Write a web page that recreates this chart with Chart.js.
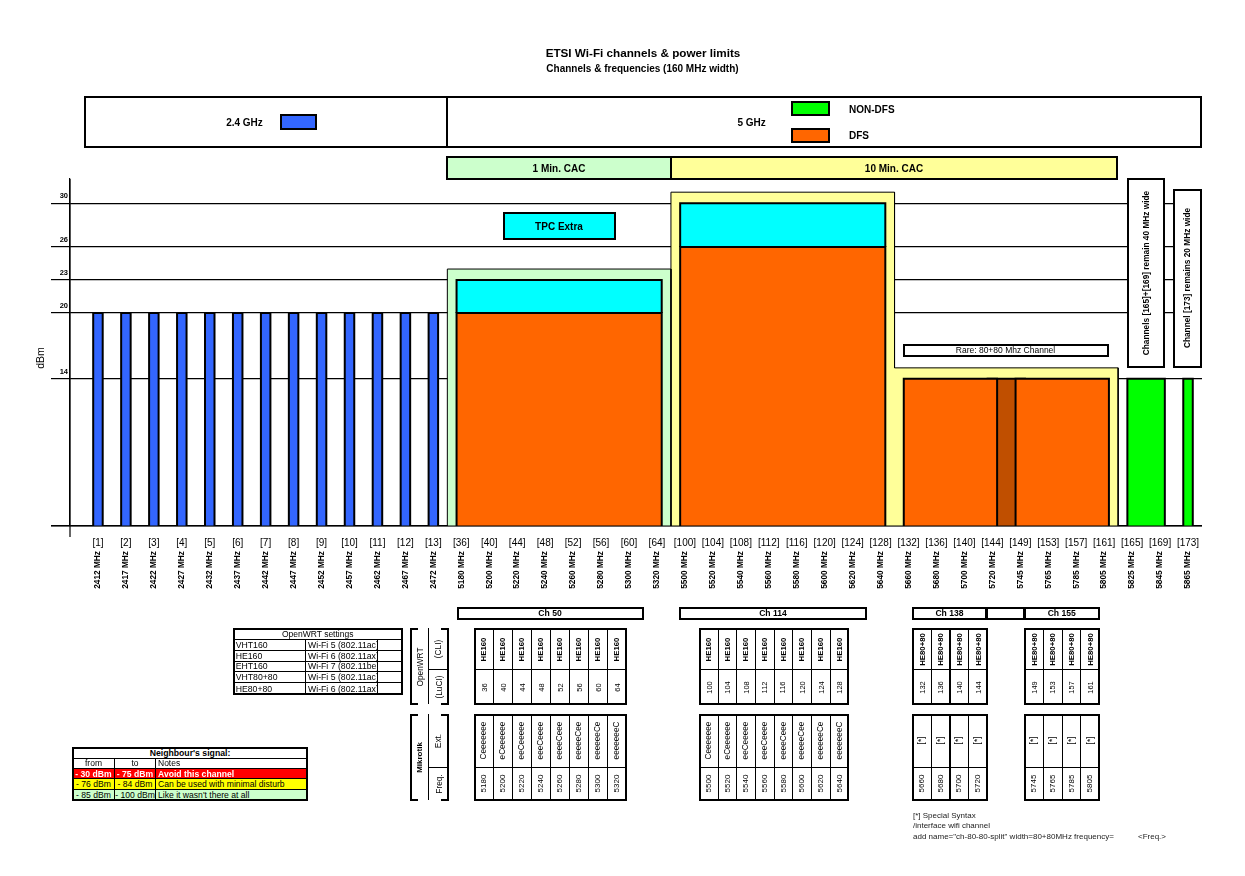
<!DOCTYPE html>
<html>
<head>
<meta charset="utf-8">
<title>ETSI Wi-Fi channels &amp; power limits</title>
<script src="https://cdn.jsdelivr.net/npm/chart.js@4.4.1/dist/chart.umd.min.js"></script>
<style>
html,body{margin:0;padding:0;background:#fff;}
#wrap{position:relative;width:1245px;height:876px;overflow:hidden;font-family:"Liberation Sans",Arial,Helvetica,sans-serif;color:#000;}
#chart{position:absolute;left:0;top:0;}
#overlay{position:absolute;left:0;top:0;width:1245px;height:876px;}
.box{position:absolute;box-sizing:border-box;}
.txt{position:absolute;white-space:nowrap;line-height:1;}
.cell{position:absolute;box-sizing:border-box;display:flex;align-items:center;white-space:nowrap;line-height:1;}
.rot{display:inline-block;flex-shrink:0;transform:rotate(-90deg);white-space:nowrap;}
</style>
</head>
<body>
<div id="wrap">
<canvas id="chart" width="1245" height="876"></canvas>
<div id="overlay"></div>
</div>
<script>
// ---------------- DATA ----------------
const channelLabels = ['[1]','[2]','[3]','[4]','[5]','[6]','[7]','[8]','[9]','[10]','[11]','[12]','[13]',
  '[36]','[40]','[44]','[48]','[52]','[56]','[60]','[64]',
  '[100]','[104]','[108]','[112]','[116]','[120]','[124]','[128]',
  '[132]','[136]','[140]','[144]','[149]','[153]','[157]','[161]',
  '[165]','[169]','[173]'];
const frequencies = [2412,2417,2422,2427,2432,2437,2442,2447,2452,2457,2462,2467,2472,
  5180,5200,5220,5240,5260,5280,5300,5320,
  5500,5520,5540,5560,5580,5600,5620,5640,
  5660,5680,5700,5720,5745,5765,5785,5805,
  5825,5845,5865];
const gridLevels = [14,20,23,26,30];

const band24Channels = ['[1]','[2]','[3]','[4]','[5]','[6]','[7]','[8]','[9]','[10]','[11]','[12]','[13]'];
const band24Power = [20,20,20,20,20,20,20,20,20,20,20,20,20];

const blockFirst = ['[36]','[100]','[132]','[149]','[165]','[173]'];
const blockLast  = ['[64]','[128]','[144]','[161]','[169]','[173]'];
const blockPower = [20,26,14,14,14,14];
const blockTpc   = [23,30,null,null,null,null];
const blockType  = ['DFS','DFS','DFS','DFS','NON-DFS','NON-DFS'];

const rareFirst = '[144]';
const rareLast  = '[149]';
const rarePower = 14;

const cacFirst = ['[36]','[100]','[132]'];
const cacLast  = ['[64]','[128]','[161]'];
const cacTop   = [24,31,15];
const cacGroup = ['1 Min. CAC','10 Min. CAC','10 Min. CAC'];

const openwrtModes = ['VHT160','HE160','EHT160','VHT80+80','HE80+80'];
const openwrtStandards = ['Wi-Fi 5 (802.11ac)','Wi-Fi 6 (802.11ax)','Wi-Fi 7 (802.11be)','Wi-Fi 5 (802.11ac)','Wi-Fi 6 (802.11ax)'];

const groupNames = ['Ch 50','Ch 114','Ch 138','Ch 155'];
const groupModes = [
  ['HE160','HE160','HE160','HE160','HE160','HE160','HE160','HE160'],
  ['HE160','HE160','HE160','HE160','HE160','HE160','HE160','HE160'],
  ['HE80+80','HE80+80','HE80+80','HE80+80'],
  ['HE80+80','HE80+80','HE80+80','HE80+80']];
const groupChannels = [
  [36,40,44,48,52,56,60,64],
  [100,104,108,112,116,120,124,128],
  [132,136,140,144],
  [149,153,157,161]];
const groupExt = [
  ['Ceeeeeee','eCeeeeee','eeCeeeee','eeeCeeee','eeeeCeee','eeeeeCee','eeeeeeCe','eeeeeeeC'],
  ['Ceeeeeee','eCeeeeee','eeCeeeee','eeeCeeee','eeeeCeee','eeeeeCee','eeeeeeCe','eeeeeeeC'],
  ['[*]','[*]','[*]','[*]'],
  ['[*]','[*]','[*]','[*]']];
const groupFreqs = [
  [5180,5200,5220,5240,5260,5280,5300,5320],
  [5500,5520,5540,5560,5580,5600,5620,5640],
  [5660,5680,5700,5720],
  [5745,5765,5785,5805]];

const signalFrom  = ['- 30 dBm','- 76 dBm','- 85 dBm'];
const signalTo    = ['- 75 dBm','- 84 dBm','- 100 dBm'];
const signalNotes = ['Avoid this channel','Can be used with minimal disturb',"Like it wasn't there at all"];

// ---------------- STYLE ----------------
const FONT = '"Liberation Sans", Arial, sans-serif';
const COLORS = {
  band24: '#3366FF', 'DFS': '#FF6600', 'NON-DFS': '#00FF00', tpc: '#00FFFF', rare: '#C04F00',
  '1 Min. CAC': '#CCFFCC', '10 Min. CAC': '#FFFF99'
};
const HW = 0.17; // half bar width in category units
const signalBg = ['#FF0000','#FFFF00','#CCFFCC'];
const signalFg = ['#FFFFFF','#000000','#000000'];
const signalBold = [true,false,false];

// ---------------- CHART ----------------
const idx = l => channelLabels.indexOf(l);
const rectPts = (i0, i1, lo, hi) => [{x:i0-HW,y:lo},{x:i0-HW,y:hi},{x:i1+HW,y:hi},{x:i1+HW,y:lo}];
const datasets = [];
function addShape(points, lo, color, width, order) {
  datasets.push({
    data: points, xAxisID: 'x', yAxisID: 'y',
    fill: {value: lo}, backgroundColor: color, borderColor: '#000', borderWidth: width,
    pointRadius: 0, pointHoverRadius: 0, pointHitRadius: 0, tension: 0, order: order,
    borderJoinStyle: 'miter', borderCapStyle: 'butt'
  });
}
// CAC backgrounds (stepped outline per group)
[...new Set(cacGroup)].forEach(g => {
  const pts = [];
  cacGroup.forEach((gg, k) => {
    if (gg !== g) return;
    const a = idx(cacFirst[k]) - 0.5, b = idx(cacLast[k]) + 0.5;
    if (!pts.length) pts.push({x:a, y:0});
    pts.push({x:a, y:cacTop[k]}, {x:b, y:cacTop[k]});
  });
  pts.push({x: pts[pts.length-1].x, y: 0});
  addShape(pts, 0, COLORS[g], 1, 10);
});
// TPC extra
blockFirst.forEach((f, k) => {
  if (blockTpc[k] == null) return;
  addShape(rectPts(idx(f), idx(blockLast[k]), blockPower[k], blockTpc[k]), blockPower[k], COLORS.tpc, 2, 8);
});
// rare 80+80 overlap
addShape(rectPts(idx(rareFirst), idx(rareLast), 0, rarePower), 0, COLORS.rare, 2, 6);
// 5 GHz blocks
blockFirst.forEach((f, k) => {
  addShape(rectPts(idx(f), idx(blockLast[k]), 0, blockPower[k]), 0, COLORS[blockType[k]], 2, 2);
});
// 2.4 GHz bars
band24Channels.forEach((c, k) => {
  addShape(rectPts(idx(c), idx(c), 0, band24Power[k]), 0, COLORS.band24, 2, 2);
});

const axisPlugin = {
  id: 'axisExt',
  afterDatasetsDraw(chart) {
    const {ctx, chartArea: a, scales: {y}} = chart;
    const yb = y.getPixelForValue(y.min);
    ctx.save();
    ctx.strokeStyle = '#000';
    ctx.lineWidth = 1.2;
    ctx.beginPath();
    ctx.moveTo(a.left - y.options.grid.tickLength, yb);
    ctx.lineTo(a.right, yb);
    ctx.moveTo(a.left, a.top);
    ctx.lineTo(a.left, a.bottom + 11);
    ctx.stroke();
    ctx.restore();
  }
};

const catTicks = s => { s.ticks = channelLabels.map((_, i) => ({value: i})); };

new Chart(document.getElementById('chart'), {
  type: 'line',
  data: {datasets},
  options: {
    responsive: false, animation: false, events: [],
    layout: {padding: {left: 50, right: 43, top: 179, bottom: 280}},
    plugins: {legend: {display: false}, tooltip: {enabled: false}, title: {display: false}},
    scales: {
      x: {
        type: 'linear', axis: 'x', position: 'bottom', weight: 0, min: -1, max: 39.5,
        afterBuildTicks: catTicks,
        afterFit: s => { s.height = 24; },
        grid: {display: false, drawTicks: false, tickLength: 0}, border: {display: false},
        ticks: {autoSkip: false, maxRotation: 0, minRotation: 0, padding: 11, color: '#000',
          font: {family: FONT, size: 10}, callback: v => (channelLabels[v] != null ? channelLabels[v] : '')}
      },
      x2: {
        type: 'linear', axis: 'x', position: 'bottom', weight: 1, min: -1, max: 39.5,
        afterBuildTicks: catTicks,
        afterFit: s => { s.height = 46; },
        grid: {display: false, drawTicks: false, tickLength: 0}, border: {display: false},
        ticks: {autoSkip: false, maxRotation: 90, minRotation: 90, padding: 1, color: '#000',
          font: {family: FONT, size: 8.3, weight: 'bold'},
          callback: v => (frequencies[v] != null ? frequencies[v] + ' MHz' : '')}
      },
      y: {
        type: 'linear', position: 'left', min: 0.6, max: 32.2,
        afterBuildTicks: s => { s.ticks = [s.min, ...gridLevels].map(v => ({value: v})); },
        afterFit: s => { s.width = 20; },
        grid: {color: '#000', lineWidth: 1.2, tickLength: 19, drawTicks: true},
        border: {display: true, color: '#000', width: 1.2},
        ticks: {padding: -17, labelOffset: -7, color: '#000',
          font: {family: FONT, size: 7.5, weight: 'bold'},
          callback: v => (gridLevels.includes(v) ? String(v) : '')}
      }
    }
  },
  plugins: [axisPlugin]
});

// ---------------- OVERLAY (texts, boxes, tables) ----------------
const OV = document.getElementById('overlay');
const px = v => v + 'px';
function rectStyle(x0, y0, x1, y1, extra) {
  return Object.assign({left: px(x0), top: px(y0), width: px(x1 - x0), height: px(y1 - y0)}, extra || {});
}
function box(x0, y0, x1, y1, extra) {
  const d = document.createElement('div');
  d.className = 'box';
  Object.assign(d.style, rectStyle(x0, y0, x1, y1, extra));
  OV.appendChild(d);
  return d;
}
function text(x, y, str, font, align, extra) {
  const d = document.createElement('div');
  d.className = 'txt';
  d.textContent = str;
  Object.assign(d.style, {left: px(x), top: px(y), font: font,
    transform: align === 'l' ? 'translateY(-50%)' : 'translate(-50%,-50%)'}, extra || {});
  OV.appendChild(d);
  return d;
}
function cell(x0, y0, x1, y1, str, o) {
  o = o || {};
  const d = document.createElement('div');
  d.className = 'cell';
  Object.assign(d.style, rectStyle(x0, y0, x1 + 1, y1 + 1, {
    font: o.font || ('8.5px ' + FONT), background: o.bg || 'transparent', color: o.color || '#000',
    border: o.noBorder ? 'none' : '1px solid #000',
    justifyContent: o.align === 'l' ? 'flex-start' : 'center',
    paddingLeft: o.align === 'l' ? '2px' : '0', overflow: o.clip ? 'hidden' : 'visible'
  }));
  const s = document.createElement('span');
  if (o.rot) s.className = 'rot';
  s.textContent = str;
  d.appendChild(s);
  OV.appendChild(d);
  return d;
}
const frame = (x0, y0, x1, y1) => box(x0, y0, x1 + 1, y1 + 1, {border: '2px solid #000'});

// titles
text(643, 52, 'ETSI Wi-Fi channels & power limits', 'bold 11.7px ' + FONT);
text(642.5, 68, 'Channels & frequencies (160 MHz width)', 'bold 10px ' + FONT);

// header legend box
box(84, 96, 1202, 148, {border: '2px solid #000', background: '#fff'});
box(445.5, 96, 447.5, 148, {background: '#000'});
text(244.5, 121.5, '2.4 GHz', 'bold 10px ' + FONT);
box(280, 114, 317, 129.5, {background: COLORS.band24, border: '2px solid #000'});
text(751.6, 121.5, '5 GHz', 'bold 10px ' + FONT);
box(791, 101, 829.5, 116, {background: COLORS['NON-DFS'], border: '2px solid #000'});
box(791, 127.5, 829.5, 142.5, {background: COLORS['DFS'], border: '2px solid #000'});
text(849, 109, 'NON-DFS', 'bold 10px ' + FONT, 'l');
text(849, 134.5, 'DFS', 'bold 10px ' + FONT, 'l');

// CAC boxes
box(446, 156, 672, 180, {background: COLORS['1 Min. CAC'], border: '2px solid #000'});
box(670, 156, 1118, 180, {background: COLORS['10 Min. CAC'], border: '2px solid #000'});
text(559, 168, '1 Min. CAC', 'bold 10px ' + FONT);
text(894, 168, '10 Min. CAC', 'bold 10px ' + FONT);

// y title
text(40, 357.5, 'dBm', '10.5px ' + FONT, 'c', {transform: 'translate(-50%,-50%) rotate(-90deg)'});

// in-plot annotations
box(502.5, 211.5, 616, 239.5, {background: COLORS.tpc, border: '2px solid #000'});
text(559, 225.5, 'TPC Extra', 'bold 10px ' + FONT);
box(902.5, 344, 1109, 356.5, {background: '#fff', border: '2px solid #000'});
text(1005.5, 350.3, 'Rare: 80+80 Mhz Channel', '8.5px ' + FONT);
box(1126.5, 178, 1165, 367.5, {background: '#fff', border: '2px solid #000'});
text(1145.5, 272.5, 'Channels [165]+[169] remain 40 MHz wide', 'bold 8.3px ' + FONT, 'c',
  {transform: 'translate(-50%,-50%) rotate(-90deg)'});
box(1172.5, 189, 1201.5, 367.5, {background: '#fff', border: '2px solid #000'});
text(1187, 278.3, 'Channel [173] remains 20 MHz wide', 'bold 8.3px ' + FONT, 'c',
  {transform: 'translate(-50%,-50%) rotate(-90deg)'});

// OpenWRT settings table
const owX = [232.7, 305, 377.3, 401.7];
const owY = [628.3, 639.3, 650, 660.7, 671.3, 682, 694];
cell(owX[0], owY[0], owX[3], owY[1], 'OpenWRT settings', {font: '8.5px ' + FONT});
openwrtModes.forEach((m, r) => {
  cell(owX[0], owY[r + 1], owX[1], owY[r + 2], m, {align: 'l', clip: true, font: '8.7px ' + FONT});
  cell(owX[1], owY[r + 1], owX[2], owY[r + 2], openwrtStandards[r], {align: 'l', clip: true, font: '8.7px ' + FONT});
  cell(owX[2], owY[r + 1], owX[3], owY[r + 2], '', {});
});
frame(owX[0], owY[0], owX[3], owY[6]);

// side label tables
function sideTable(x0, xm, x1, y0, ym, y1, main, top, bottom, mainBold) {
  cell(x0, y0, xm, y1, main, {rot: true, noBorder: true, font: (mainBold ? 'bold 8px ' : '8.3px ') + FONT});
  cell(xm, y0, x1, ym, top, {rot: true, noBorder: true, font: '8.3px ' + FONT});
  cell(xm, ym, x1, y1, bottom, {rot: true, noBorder: true, font: '8.3px ' + FONT});
  box(x0, y0, x0 + 2, y1 + 1, {background: '#000'});
  box(x1 - 1, y0, x1 + 1, y1 + 1, {background: '#000'});
  box(xm, y0, xm + 1, y1, {background: '#000'});
  box(xm, ym, x1, ym + 1, {background: '#000'});
  box(x0, y0, x0 + 8, y0 + 2, {background: '#000'});
  box(x1 - 7, y0, x1 + 1, y0 + 2, {background: '#000'});
  box(x0, y1 - 1, x0 + 8, y1 + 1, {background: '#000'});
  box(x1 - 7, y1 - 1, x1 + 1, y1 + 1, {background: '#000'});
}
sideTable(410, 428.3, 447.7, 628.3, 669.3, 704, 'OpenWRT', '(CLI)', '(LuCI)', false);
sideTable(410, 428.3, 447.7, 714.3, 766.7, 800, 'Mikrotik', 'Ext.', 'Freq.', true);

// channel group tables
const groupX = [[474.3, 625.7], [699, 848.3], [912.3, 986.7], [1024, 1099.3]];
const headX = [[456.5, 643.5], [679, 867], [912, 987], [1023.5, 1100]];
const rowsTop = [628.3, 669.3, 704];
const rowsBot = [714.3, 766.7, 800];
groupNames.forEach((name, g) => {
  const [hx0, hx1] = headX[g];
  box(hx0, 606.5, hx1, 619.5, {border: '2px solid #000', background: '#fff'});
  text((hx0 + hx1) / 2, 613, name, 'bold 8.6px ' + FONT);
  const [x0, x1] = groupX[g];
  const n = groupChannels[g].length;
  const w = (x1 - x0) / n;
  for (let i = 0; i < n; i++) {
    const a = x0 + i * w, b = x0 + (i + 1) * w;
    cell(a, rowsTop[0], b, rowsTop[1], groupModes[g][i], {rot: true, font: 'bold 7.8px ' + FONT});
    cell(a, rowsTop[1], b, rowsTop[2], String(groupChannels[g][i]), {rot: true, font: '7.5px ' + FONT});
    cell(a, rowsBot[0], b, rowsBot[1], groupExt[g][i], {rot: true, font: '8.2px ' + FONT});
    cell(a, rowsBot[1], b, rowsBot[2], String(groupFreqs[g][i]), {rot: true, font: '8px ' + FONT});
  }
  frame(x0, rowsTop[0], x1, rowsTop[2]);
  frame(x0, rowsBot[0], x1, rowsBot[2]);
});
box(986, 606.5, 1024.5, 619.5, {border: '2px solid #000', background: '#fff'});

// neighbour's signal table
const nbX = [72, 114, 155, 307];
const nbY = [746.7, 757.7, 768.3, 778.3, 789.3, 800];
cell(nbX[0], nbY[0], nbX[3], nbY[1], "Neighbour's signal:", {font: 'bold 8.7px ' + FONT, bg: '#fff'});
cell(nbX[0], nbY[1], nbX[1], nbY[2], 'from', {font: '8.5px ' + FONT, bg: '#fff'});
cell(nbX[1], nbY[1], nbX[2], nbY[2], 'to', {font: '8.5px ' + FONT, bg: '#fff'});
cell(nbX[2], nbY[1], nbX[3], nbY[2], 'Notes', {font: '8.5px ' + FONT, bg: '#fff', align: 'l'});
signalFrom.forEach((f, r) => {
  const fnt = (signalBold[r] ? 'bold ' : '') + '8.6px ' + FONT;
  const st = {font: fnt, bg: signalBg[r], color: signalFg[r]};
  cell(nbX[0], nbY[r + 2], nbX[1], nbY[r + 3], f, st);
  cell(nbX[1], nbY[r + 2], nbX[2], nbY[r + 3], signalTo[r], st);
  cell(nbX[2], nbY[r + 2], nbX[3], nbY[r + 3], signalNotes[r], Object.assign({align: 'l', clip: true}, st));
});
frame(nbX[0], nbY[0], nbX[3], nbY[5]);

// special syntax note
const noteFont = '8px ' + FONT;
text(913, 815, '[*] Special Syntax', noteFont, 'l', {color: '#222'});
text(913, 825, '/interface wifi channel', noteFont, 'l', {color: '#222'});
text(913, 835.5, 'add name="ch-80-80-split" width=80+80MHz frequency=', noteFont, 'l', {color: '#222'});
text(1138, 835.5, '<Freq.>', noteFont, 'l', {color: '#222'});
</script>
</body>
</html>
